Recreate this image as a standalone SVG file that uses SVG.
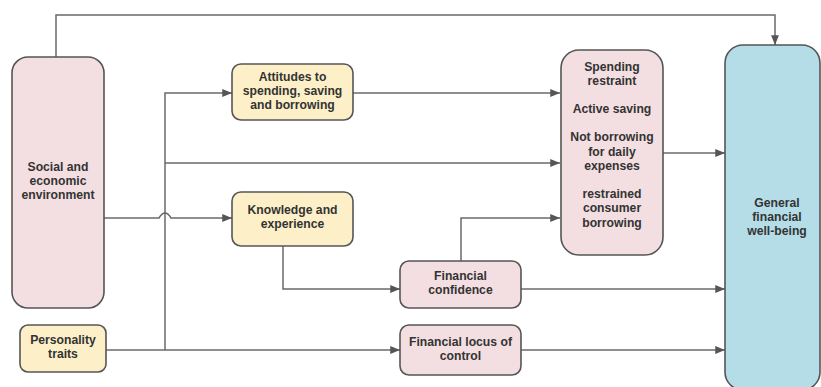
<svg xmlns="http://www.w3.org/2000/svg" width="821" height="387" viewBox="0 0 821 387">
  <style>
    .box { stroke: #555; stroke-width: 1.6; }
    .pink { fill: #f3dfe1; }
    .yellow { fill: #fdf0c8; }
    .blue { fill: #b5dde7; }
    .lbl { font-family: "Liberation Sans", Arial, sans-serif; font-weight: bold; font-size: 12.2px; fill: #333; text-anchor: middle; }
    .conn { fill: none; stroke: #6a6a6a; stroke-width: 1.5; }
  </style>
  <defs>
    <marker id="arrow" viewBox="0 0 10 10" refX="10" refY="5" markerWidth="6.5" markerHeight="6.5" orient="auto">
      <path d="M0,1 L10,5 L0,9 z" fill="#555"/>
    </marker>
  </defs>
  <rect width="821" height="387" fill="#ffffff"/>

  <g id="connectors">
    <!-- Social environment to general well-being, over the top -->
    <path class="conn" d="M56,57 V15 H775 V45" marker-end="url(#arrow)"/>
    <!-- trunk from personality traits -->
    <path class="conn" d="M165,350 V93 H232" marker-end="url(#arrow)"/>
    <path class="conn" d="M165,163 H560" marker-end="url(#arrow)"/>
    <!-- Social environment to knowledge, hopping over the trunk -->
    <path class="conn" d="M104,218 H159 Q165,208 171,218 H232" marker-end="url(#arrow)"/>
    <!-- attitudes to behaviours -->
    <path class="conn" d="M353,93 H560" marker-end="url(#arrow)"/>
    <!-- knowledge to confidence -->
    <path class="conn" d="M283,246 V289 H400" marker-end="url(#arrow)"/>
    <!-- confidence to behaviours -->
    <path class="conn" d="M461,261 V218 H560" marker-end="url(#arrow)"/>
    <!-- personality to locus of control -->
    <path class="conn" d="M106,350 H400" marker-end="url(#arrow)"/>
    <!-- into general well-being -->
    <path class="conn" d="M663,153 H725" marker-end="url(#arrow)"/>
    <path class="conn" d="M521,289 H725" marker-end="url(#arrow)"/>
    <path class="conn" d="M521,350 H725" marker-end="url(#arrow)"/>
  </g>

  <g id="social">
    <rect class="box pink" x="12" y="57" width="92" height="251" rx="16"/>
    <text class="lbl" x="58" y="171">Social and</text>
    <text class="lbl" x="58" y="185">economic</text>
    <text class="lbl" x="58" y="199">environment</text>
  </g>

  <g id="personality">
    <rect class="box yellow" x="20" y="325" width="86" height="47" rx="8"/>
    <text class="lbl" x="63" y="344">Personality</text>
    <text class="lbl" x="63" y="358">traits</text>
  </g>

  <g id="attitudes">
    <rect class="box yellow" x="232" y="64" width="121" height="56" rx="9"/>
    <text class="lbl" x="292.5" y="81">Attitudes to</text>
    <text class="lbl" x="292.5" y="95">spending, saving</text>
    <text class="lbl" x="292.5" y="109">and borrowing</text>
  </g>

  <g id="knowledge">
    <rect class="box yellow" x="232" y="192" width="121" height="54" rx="9"/>
    <text class="lbl" x="292.5" y="214">Knowledge and</text>
    <text class="lbl" x="292.5" y="228">experience</text>
  </g>

  <g id="confidence">
    <rect class="box pink" x="400" y="261" width="121" height="47" rx="9"/>
    <text class="lbl" x="460.5" y="280">Financial</text>
    <text class="lbl" x="460.5" y="294">confidence</text>
  </g>

  <g id="locus">
    <rect class="box pink" x="400" y="325" width="121" height="50" rx="9"/>
    <text class="lbl" x="460.5" y="346">Financial locus of</text>
    <text class="lbl" x="460.5" y="360">control</text>
  </g>

  <g id="behaviours">
    <rect class="box pink" x="561" y="50" width="102" height="205" rx="18"/>
    <text class="lbl" x="612" y="71">Spending</text>
    <text class="lbl" x="612" y="85">restraint</text>
    <text class="lbl" x="612" y="113">Active saving</text>
    <text class="lbl" x="612" y="141">Not borrowing</text>
    <text class="lbl" x="612" y="156">for daily</text>
    <text class="lbl" x="612" y="170">expenses</text>
    <text class="lbl" x="612" y="198">restrained</text>
    <text class="lbl" x="612" y="212">consumer</text>
    <text class="lbl" x="612" y="227">borrowing</text>
  </g>

  <g id="wellbeing">
    <rect class="box blue" x="725" y="45" width="95" height="345" rx="18"/>
    <text class="lbl" x="777" y="207">General</text>
    <text class="lbl" x="777" y="221">financial</text>
    <text class="lbl" x="777" y="235">well-being</text>
  </g>
</svg>
